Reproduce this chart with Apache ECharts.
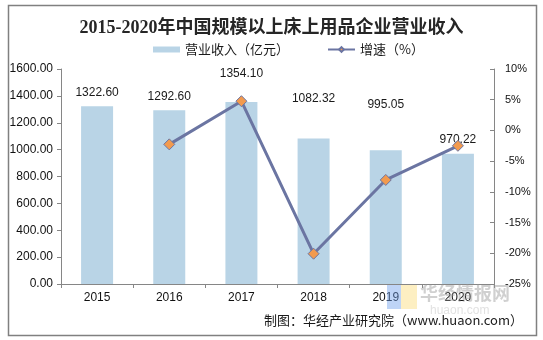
<!DOCTYPE html>
<html><head><meta charset="utf-8">
<script src="https://cdn.jsdelivr.net/npm/echarts@6/dist/echarts.min.js"></script>
<style>html,body{margin:0;padding:0;background:#fff}#c{width:543px;height:340px}</style>
</head><body><div id="c"></div>
<script>
var years = ['2015','2016','2017','2018','2019','2020'];
var revenue = [1322.60, 1292.60, 1354.10, 1082.32, 995.05, 970.22];
var growth = [null, -2.27, 4.76, -20.07, -8.06, -2.50];
var leftTicks = [0, 1600, 200];
var rightTicks = [-25, 10, 5];

var labelLift = [8, 8, 22, 34, 40, 8];
var chart = echarts.init(document.getElementById('c'));
var barData = revenue.map(function(v, i){
  return {value: v, label: {distance: labelLift[i]}};
});
chart.setOption({
  animation: false,
  title: {text: '2015-2020年中国规模以上床上用品企业营业收入', left: 'center', top: 14,
    textStyle: {fontFamily: "'Liberation Serif','Noto Sans CJK SC',serif", fontWeight: 'bold', fontSize: 18, color: '#262626'}},
  legend: {top: 38, left: 148, itemWidth: 27, itemHeight: 6, itemGap: 38,
    textStyle: {fontSize: 13, color: '#1a1a1a', fontFamily: "'Noto Sans CJK SC',sans-serif"},
    data: [{name: '营业收入（亿元）', icon: 'rect'}, {name: '增速（%）'}]},
  grid: {left: 61, right: 49, top: 69, bottom: 56},
  xAxis: {type: 'category', data: years,
    axisLine: {lineStyle: {color: '#868686'}},
    axisTick: {show: true, length: 4, lineStyle: {color: '#868686'}},
    axisLabel: {fontSize: 12, color: '#111', fontFamily: "'Liberation Sans',Arial", margin: 8}},
  yAxis: [
    {type: 'value', min: leftTicks[0], max: leftTicks[1], interval: leftTicks[2],
     splitLine: {show: false},
     axisLine: {show: true, lineStyle: {color: '#868686'}},
     axisTick: {show: true, length: 4, lineStyle: {color: '#868686'}},
     axisLabel: {fontSize: 12, color: '#111', fontFamily: "'Liberation Sans',Arial", margin: 8,
       formatter: function(v){ return v.toFixed(2); }}},
    {type: 'value', min: rightTicks[0], max: rightTicks[1], interval: rightTicks[2],
     splitLine: {show: false},
     axisLine: {show: true, lineStyle: {color: '#868686'}},
     axisTick: {show: true, inside: true, length: 4, lineStyle: {color: '#868686'}},
     axisLabel: {fontSize: 11, color: '#111', fontFamily: "'Liberation Sans',Arial", margin: 11,
       formatter: function(v){ return v + '%'; }}}
  ],
  series: [
    {name: '营业收入（亿元）', type: 'bar', data: barData, barWidth: 32,
     itemStyle: {color: '#b9d4e6'},
     label: {show: true, position: 'top', fontSize: 12, color: '#1a1a1a', fontFamily: "'Liberation Sans',Arial",
       formatter: function(p){ return p.value.toFixed(2); }}},
    {name: '增速（%）', type: 'line', yAxisIndex: 1, data: growth, connectNulls: false,
     lineStyle: {color: '#6b75a2', width: 3}, itemStyle: {color: '#f29a4e', borderColor: '#6b75a2', borderWidth: 1},
     symbol: 'diamond', symbolSize: 11, showSymbol: true, z: 5}
  ],
  graphic: [
    {type: 'rect', left: 6, top: 3, shape: {width: 528, height: 330}, style: {fill: 'none', stroke: '#808080', lineWidth: 1.5}, silent: true},
    {type: 'rect', left: 387, top: 285, shape: {width: 14, height: 24}, style: {fill: 'rgba(110,160,235,0.45)'}, z: 10},
    {type: 'rect', left: 401, top: 285, shape: {width: 16, height: 24}, style: {fill: 'rgba(250,220,120,0.45)'}, z: 10},
    {type: 'text', left: 420, top: 284, style: {text: '华经情报网', fontSize: 18, fontWeight: 'bold', fill: 'rgba(150,150,150,0.45)', fontFamily: "'Noto Sans CJK SC',sans-serif"}, z: 10},
    {type: 'text', left: 430, top: 305, style: {text: 'huaon.com', fontSize: 12, fill: 'rgba(170,170,170,0.35)', fontFamily: "'Liberation Sans',Arial"}, z: 10},
    {type: 'text', right: 20, top: 314, style: {text: '制图：华经产业研究院（www.huaon.com）', fontSize: 13, fill: '#1a1a1a', fontFamily: "'Noto Sans CJK SC',sans-serif"}}
  ]
});
</script></body></html>
